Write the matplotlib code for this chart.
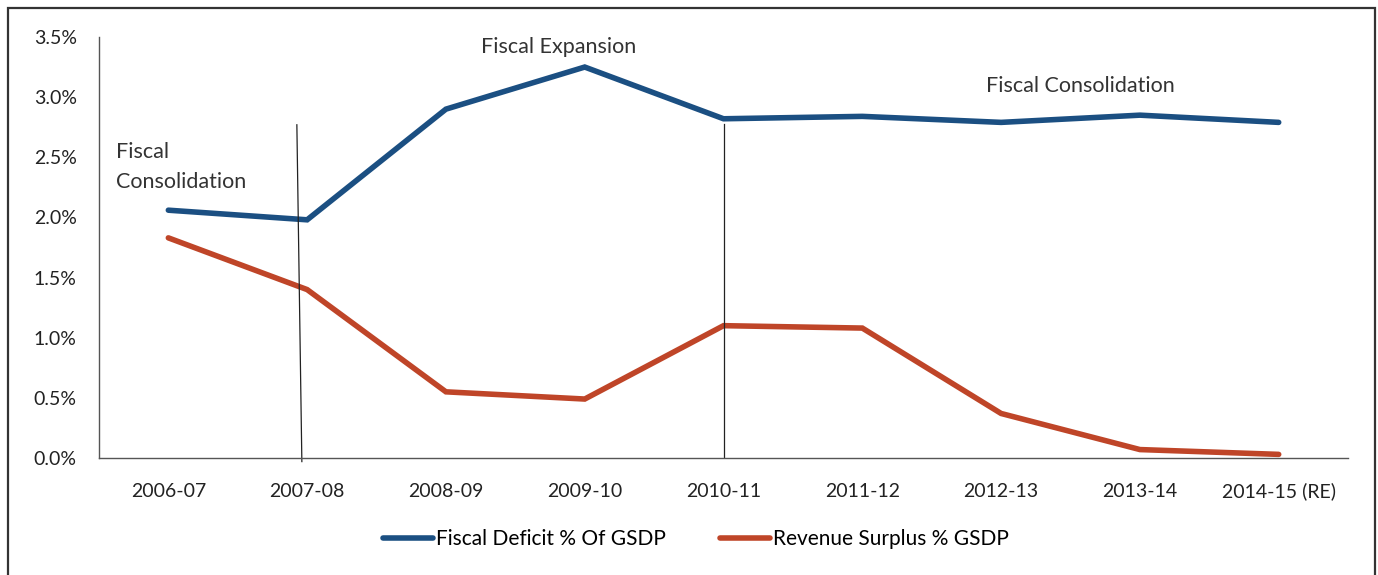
import numpy as np
import matplotlib.pyplot as plt
from matplotlib.patches import Rectangle
from matplotlib.ticker import FuncFormatter

plt.rcParams["font.family"] = ["Lato", "DejaVu Sans"]

years = ["2006-07", "2007-08", "2008-09", "2009-10", "2010-11",
         "2011-12", "2012-13", "2013-14", "2014-15 (RE)"]
fiscal_deficit = [2.06, 1.98, 2.90, 3.25, 2.82, 2.84, 2.79, 2.85, 2.79]
revenue_surplus = [1.83, 1.40, 0.55, 0.49, 1.10, 1.08, 0.37, 0.07, 0.03]

BLUE = "#1b4f82"
RED = "#bf4528"

fig = plt.figure(figsize=(13.78, 5.75), dpi=100)
ax = fig.add_axes([0.0718, 0.2035, 0.9065, 0.7322])

x = np.arange(len(years))
ax.plot(x, fiscal_deficit, color=BLUE, lw=4.0, solid_capstyle="round",
        solid_joinstyle="miter", label="Fiscal Deficit % Of GSDP")
ax.plot(x, revenue_surplus, color=RED, lw=4.0, solid_capstyle="round",
        solid_joinstyle="miter", label="Revenue Surplus % GSDP")

# phase separators
ax.plot([0.926, 0.962], [2.77, -0.03], color="#222222", lw=0.9, clip_on=False)
ax.plot([4, 4], [2.78, 0], color="#222222", lw=0.9)

ax.text(-0.38, 2.42, "Fiscal\nConsolidation", fontsize=15.5, color="#333333",
        va="center", ha="left", linespacing=1.6)
ax.text(2.81, 3.42, "Fiscal Expansion", fontsize=15.5, color="#333333",
        ha="center", va="center")
ax.text(6.57, 3.09, "Fiscal Consolidation", fontsize=15.5, color="#333333",
        ha="center", va="center")

ax.set_xlim(-0.5, len(years) - 0.5)
ax.set_ylim(0, 3.5)
ax.set_yticks(np.arange(0, 3.51, 0.5))
ax.yaxis.set_major_formatter(FuncFormatter(lambda v, _: f"{v:.1f}%"))
ax.set_xticks(x)
ax.set_xticklabels(years, va="baseline")
ax.tick_params(axis="both", length=0, labelsize=14, colors="#222222")
ax.tick_params(axis="x", pad=28)
ax.tick_params(axis="y", pad=16)
for s in ["top", "right"]:
    ax.spines[s].set_visible(False)
for s in ["left", "bottom"]:
    ax.spines[s].set_color("#555555")
    ax.spines[s].set_linewidth(1.0)

fig.legend(loc="center", bbox_to_anchor=(0.505, 0.062), ncol=2, frameon=False,
           fontsize=15, handlelength=2.4, handletextpad=0.15, columnspacing=2.6)

# outer frame
fig.patches.append(Rectangle((0.0058, -0.05), 0.992, 1.036, transform=fig.transFigure,
                             fill=False, edgecolor="#333333", lw=1.6))

fig.savefig("out.png", dpi=100)
